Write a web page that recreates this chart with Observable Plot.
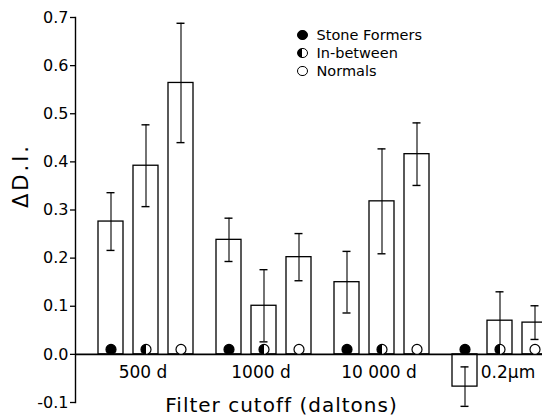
<!DOCTYPE html>
<html>
<head>
<meta charset="utf-8">
<script src="https://cdn.jsdelivr.net/npm/d3@7"></script>
<script src="https://cdn.jsdelivr.net/npm/@observablehq/plot@0.6"></script>
<style>
  html, body { margin: 0; padding: 0; background: white; overflow: hidden; }
  #wrap { position: relative; width: 542px; height: 416px; }
  #legend { position: absolute; left: 297px; top: 26px; font-family: "DejaVu Sans", sans-serif; font-size: 14.5px; color: black; }
  #legend .row { display: flex; align-items: center; height: 18px; }
  #legend .sym { display: inline-block; width: 8.5px; height: 8.5px; border: 1.3px solid black; border-radius: 50%; box-sizing: content-box; }
  #legend .lab { margin-left: 9px; white-space: pre; }
</style>
</head>
<body>
<div id="wrap"><div id="chart"></div><div id="legend"></div></div>
<script>
// ---- data ----
const groups = ["500 d", "1000 d", "10 000 d", "0.2µm"];
const series = ["Stone Formers", "In-between", "Normals"];
const stoneFormers    = [0.276, 0.238, 0.150, -0.067];
const stoneFormersErr = [0.060, 0.045, 0.064, 0.041];
const inBetween       = [0.392, 0.101, 0.318, 0.070];
const inBetweenErr    = [0.085, 0.075, 0.109, 0.060];
const normals         = [0.564, 0.202, 0.416, 0.066];
const normalsErr      = [0.124, 0.049, 0.065, 0.035];
const yTicks = [-0.1, 0.0, 0.1, 0.2, 0.3, 0.4, 0.5, 0.6, 0.7];
const legendFills = ["black", "linear-gradient(to right, black 50%, white 50%)", "white"];

const means = [stoneFormers, inBetween, normals];
const errs = [stoneFormersErr, inBetweenErr, normalsErr];
const rows = groups.flatMap((g, i) => series.map((s, j) => ({
  group: g, series: s, value: means[j][i], err: errs[j][i]
})));

// left half-disc symbol for the "In-between" marker
const halfLeft = {
  draw(ctx, size) {
    const r = Math.sqrt(size / Math.PI);
    ctx.moveTo(0, -r);
    ctx.arc(0, 0, r, -Math.PI / 2, Math.PI / 2, true);
    ctx.closePath();
  }
};

const chart = Plot.plot({
  width: 542,
  height: 416,
  marginLeft: 75,
  marginRight: -5,
  marginTop: 17,
  marginBottom: 14,
  style: {fontFamily: "DejaVu Sans, sans-serif", fontSize: "16px", background: "white", overflow: "hidden", color: "black"},
  fx: {domain: groups, paddingInner: 0, paddingOuter: 0, axis: null},
  x: {domain: series, paddingInner: 0.296, paddingOuter: 0.31, align: 1, axis: null},
  y: {domain: [-0.1, 0.7], axis: null},
  color: {domain: series, range: ["black", "white", "white"]},
  marks: [
    Plot.barY(rows, {fx: "group", x: "series", y: "value", fill: "white", stroke: "black", strokeWidth: 1.3}),
    Plot.ruleX(rows, {fx: "group", x: "series", y1: d => d.value - d.err, y2: d => d.value + d.err, stroke: "black", strokeWidth: 1.1}),
    Plot.tickY(rows, {fx: "group", x: "series", y: d => d.value + d.err, insetLeft: 8.5, insetRight: 8.5, stroke: "black", strokeWidth: 1.4}),
    Plot.tickY(rows, {fx: "group", x: "series", y: d => d.value - d.err, insetLeft: 8.5, insetRight: 8.5, stroke: "black", strokeWidth: 1.4}),
    Plot.ruleY([0], {stroke: "black", strokeWidth: 1.8}),
    Plot.frame({anchor: "left", facet: "super", stroke: "black", strokeWidth: 1.4}),
    Plot.dot(rows, {fx: "group", x: "series", y: 0, dy: -5, r: 5, fill: "series", stroke: "black", strokeWidth: 1.2}),
    Plot.dot(rows.filter(d => d.series === series[1]), {fx: "group", x: "series", y: 0, dy: -5, r: 5, symbol: halfLeft, fill: "black"}),
    Plot.text(groups.slice(0, 3), {fx: d => d, x: () => series[1], y: 0, text: d => d, dy: 18, dx: -3, fontSize: 17, lineAnchor: "middle"}),
    Plot.text(groups.slice(3), {fx: d => d, x: () => series[1], y: 0, text: d => d, dy: 18, dx: 8, fontSize: 17, lineAnchor: "middle"}),
    Plot.axisY(yTicks, {tickFormat: d => d.toFixed(1), tickSize: 5, tickPadding: 2, fontSize: 16, label: null, stroke: "black", strokeWidth: 1.3}),
    Plot.text(["ΔD.I."], {facet: "super", frameAnchor: "top-left", textAnchor: "middle", rotate: -90, dx: -54, dy: 158, fontSize: 21, lineAnchor: "middle"}),
    Plot.text(["Filter cutoff (daltons)"], {facet: "super", frameAnchor: "bottom", dx: -30, dy: 3, fontSize: 20, lineAnchor: "middle"})
  ]
});
d3.select(chart).selectAll("text").filter(function() { return this.textContent.startsWith("Filter"); }).attr("letter-spacing", 1);
d3.select(chart).selectAll("text").filter(function() { return this.textContent === "ΔD.I."; }).attr("letter-spacing", 3);
document.getElementById("chart").appendChild(chart);

// legend (drawn inside the plot area, as in the reference)
const legend = d3.select("#legend");
series.forEach((s, i) => {
  const row = legend.append("div").attr("class", "row");
  row.append("span").attr("class", "sym").style("background", legendFills[i]);
  row.append("span").attr("class", "lab").text(s);
});
</script>
</body>
</html>
